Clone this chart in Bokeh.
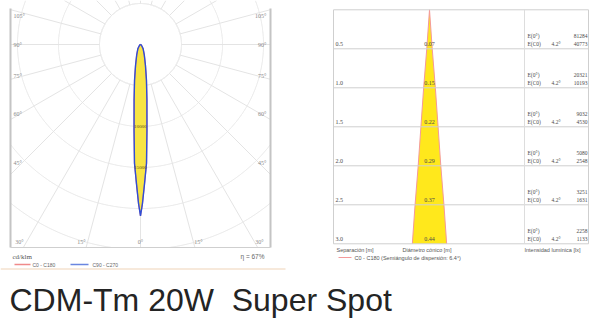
import numpy as np
from bokeh.plotting import figure
from bokeh.models import Range1d
from bokeh.core.properties import value
from bokeh.embed import file_html
from bokeh.resources import INLINE

# ---------------- data ----------------
# polar luminous intensity (cd/klm) vs angle from nadir (deg)
angles_deg = [0, 0.7, 1.65, 2.9, 4.3, 6.6, 9.5, 13.4, 20, 32, 50, 70, 90]
int_c0_c180 = [20900, 19400, 17000, 14500, 10500, 6800, 4400, 2600, 1350, 600, 150, 30, 0]
int_c90_c270 = [20900, 19400, 17000, 14500, 10500, 6800, 4400, 2600, 1350, 600, 150, 30, 0]
ring_values = [5000, 10000, 15000, 20000, 25000, 30000]
ring_labels = ["10000", "15000"]
ring_label_values = [10000, 15000]
side_tick_angles = [45, 60, 75, 90, 105]
bottom_tick_angles = [-30, -15, 0, 15, 30]
efficiency = "η = 67%"

# cone diagram
distances = [0.5, 1.0, 1.5, 2.0, 2.5, 3.0]
diameters = [0.07, 0.15, 0.22, 0.29, 0.37, 0.44]
e_axis = [81284, 20321, 9032, 5080, 3251, 2258]
e_c0 = [40773, 10193, 4530, 2548, 1631, 1133]
half_angle = "4.2°"
title = "CDM-Tm 20W\u00a0 Super Spot"

# ---------------- figure ----------------
p = figure(width=600, height=324, x_range=Range1d(0, 600), y_range=Range1d(324, 0),
           output_backend="svg", toolbar_location=None, min_border=0,
           x_axis_location=None, y_axis_location=None)
p.grid.visible = False
p.outline_line_color = None
p.background_fill_color = "white"
p.border_fill_color = "white"

SANS = "Liberation Sans"
SERIF = "Liberation Serif"

def txt(x, y, s, size, color="#444444", align="left", baseline="middle", font=SANS):
    p.text(x=list(np.atleast_1d(x)), y=list(np.atleast_1d(y)), text=list(np.atleast_1d(s)),
           text_font=value(font), text_font_size=value(f"{size}px"),
           text_color=color, text_align=align, text_baseline=baseline)

# ---------- left: polar diagram ----------
L, R, T, B = 10, 270, 0, 247      # frame
CX, CY = 140, 44                   # lamp position
K = 41.0 / 5000.0                  # px per cd/klm

def clip(xs, ys):
    xs = np.array(xs, float); ys = np.array(ys, float)
    m = (xs < L) | (xs > R) | (ys < T) | (ys > B)
    xs[m] = np.nan; ys[m] = np.nan
    return xs, ys

grid_col = "#e4e4e4"
t = np.linspace(0, 2 * np.pi, 2400)
for rv in ring_values:
    r = rv * K
    xs, ys = clip(CX + r * np.cos(t), CY + r * np.sin(t))
    p.line(xs, ys, line_color=grid_col, line_width=1)

for a in range(0, 360, 15):
    ar = np.radians(a)
    dx, dy = np.sin(ar), np.cos(ar)
    r0 = ring_values[0] * K
    cands = []
    if dx > 1e-9: cands.append((R - CX) / dx)
    if dx < -1e-9: cands.append((L - CX) / dx)
    if dy > 1e-9: cands.append((B - CY) / dy)
    if dy < -1e-9: cands.append((T - CY) / dy)
    r1 = min(cands)
    if r1 > r0:
        p.line([CX + r0 * dx, CX + r1 * dx], [CY + r0 * dy, CY + r1 * dy],
               line_color=grid_col, line_width=1)

# frame
p.line([L, L], [8, B], line_color="#c4c4c4", line_width=2)
p.line([R, R], [8, B], line_color="#c4c4c4", line_width=2)
p.line([L, R], [B, B], line_color="#cfcfcf", line_width=1)

# lobe
th = np.radians(np.array(angles_deg, float))
def lobe(vals):
    v = np.array(vals, float) * K
    thf = np.concatenate([-th[::-1], th[1:]])
    vf = np.concatenate([v[::-1], v[1:]])
    return CX + vf * np.sin(thf), CY + vf * np.cos(thf)

xs0, ys0 = lobe(int_c0_c180)
xs9, ys9 = lobe(int_c90_c270)
p.patch(list(xs9), list(ys9), fill_color="#f7e444", line_color=None)
p.line(list(xs0), list(ys0), line_color="#f07c7c", line_width=1.2)
p.line(list(xs9), list(ys9), line_color="#2f4fd6", line_width=1.4)

txt([CX] * len(ring_labels), [CY + v * K for v in ring_label_values], ring_labels, 5,
    color="#5a5020", align="center", font=SERIF)

# angle labels
lab_col = "#8a8a8a"
side_y = {45: 162, 60: 113, 75: 75, 90: 44, 105: 15}
for a in side_tick_angles:
    txt(13, side_y[a], f"{a}°", 6, lab_col, "left", font=SERIF)
    txt(266, side_y[a], f"{a}°", 6, lab_col, "right", font=SERIF)
bottom_x = {-30: 19, -15: 81, 0: 140, 15: 198, 30: 259}
for a in bottom_tick_angles:
    txt(bottom_x[a], 241.5, f"{abs(a)}°", 6, lab_col, "center", font=SERIF)

txt(12, 256, "cd/klm", 7, "#555555", font=SERIF)
p.line([14, 30], [264, 264], line_color="#f08a8a", line_width=1.3)
txt(32, 264, "C0 - C180", 5, "#666666")
p.line([70, 88], [264, 264], line_color="#6a86e0", line_width=1.3)
txt(92, 264, "C90 - C270", 5, "#666666")
txt(264, 256, efficiency, 6.5, "#666666", "right")
p.line([0, 285], [268.5, 268.5], line_color="#f4e2cf", line_width=1.5)

# ---------- right: cone diagram ----------
RL, RR, RT = 333, 588, 9.3
SY = 78.0          # px per metre (depth)
SX = 78.0          # px per metre (diameter)
CCX = 429
RB = RT + SY * distances[-1]
frame_col = "#cfcfcf"

# cone
cx_l = [CCX] + [CCX - d / 2 * SX for d in diameters]
cy_ = [RT] + [RT + s * SY for s in distances]
cx_r = [CCX + d / 2 * SX for d in diameters][::-1]
cone_x = cx_l + cx_r
cone_y = cy_ + cy_[1:][::-1]
p.patch(cone_x, cone_y, fill_color="#ffe81c", line_color=None)
p.line(cx_l, cy_, line_color="#f49a9a", line_width=1)
p.line([CCX] + [CCX + d / 2 * SX for d in diameters], cy_, line_color="#f49a9a", line_width=1)

for s in distances:
    yy = RT + s * SY
    p.line([RL, RR], [yy, yy], line_color=frame_col, line_width=1)
p.line([RL, RR], [RT, RT], line_color=frame_col, line_width=1)
p.line([RL, RL], [RT, RB], line_color=frame_col, line_width=1)
p.line([RR, RR], [RT, RB], line_color=frame_col, line_width=1)
p.line([524, 524], [RT, RB], line_color="#dddddd", line_width=1)

tc = "#4a4a4a"
for s, d, e0, ec in zip(distances, diameters, e_axis, e_c0):
    yy = RT + s * SY
    txt(335, yy - 5, f"{s:.1f}", 6, tc, font=SERIF)
    txt(CCX, yy - 5, f"{d:.2f}", 6, tc, "center", font=SERIF)
    txt(527, yy - 13, "E(0°)", 5.5, tc, font=SERIF)
    txt(527, yy - 5, "E(C0)", 5.5, tc, font=SERIF)
    txt(551, yy - 5, half_angle, 5.5, tc, font=SERIF)
    txt(587, yy - 13, str(e0), 5.5, tc, "right", font=SERIF)
    txt(587, yy - 5, str(ec), 5.5, tc, "right", font=SERIF)

txt(336, 249, "Separación [m]", 5.5, "#555555")
txt(402, 249, "Diámetro cónico [m]", 5.5, "#555555")
txt(524, 249, "Intensidad lumínica [lx]", 5.5, "#555555")
p.line([338, 351], [257, 257], line_color="#f49a9a", line_width=1)
txt(354, 257, "C0 - C180 (Semiángulo de dispersión: 6.4°)", 5.5, "#555555")

# ---------- title ----------
txt(9, 299, title, 32, "#242424", "left", "middle")

open("out.html", "w").write(file_html(p, INLINE))
